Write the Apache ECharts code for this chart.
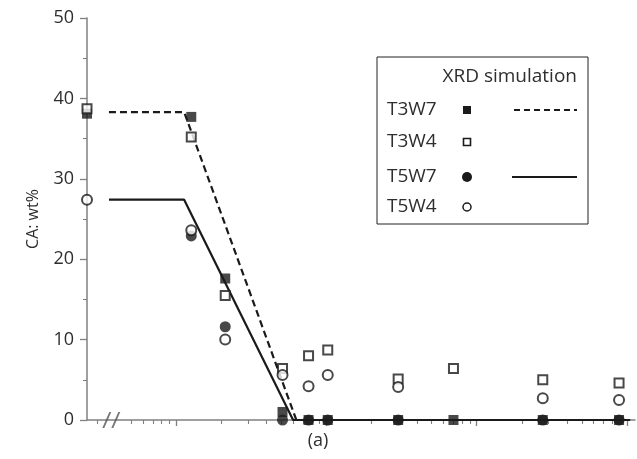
<!DOCTYPE html>
<html>
<head>
<meta charset="utf-8">
<script src="https://cdn.jsdelivr.net/npm/echarts@6/dist/echarts.min.js"></script>
<style>
  html, body { margin: 0; padding: 0; background: #fff; }
  #main { width: 637px; height: 459px; }
</style>
</head>
<body>
<div id="main"></div>
<script>
// x axis is logarithmic; the first column sits on the axis break (no exposure)
var X_MIN = 0.255;
var X_MAX = 1130;
var X_BREAK = 0.37;

var sampleX = [X_MIN, 1.26, 2.12, 5.1, 7.6, 10.2, 30, 70, 275, 885];
var t3w7 = [38.1, 37.7, 17.6, 1.0, 0, 0, 0, 0, 0, 0];
var t3w4 = [38.7, 35.2, 15.5, 6.4, 8.0, 8.7, 5.1, 6.4, 5.0, 4.6];
var t5w7 = [null, 22.9, 11.6, 0, 0, 0, 0, null, 0, 0];
var t5w4 = [27.4, 23.6, 10.0, 5.6, 4.2, 5.6, 4.1, null, 2.7, 2.5];

// XRD simulation curves
var simT3X = [0.357, 1.13, 6.3, 1050];
var simT3Y = [38.3, 38.3, 0, 0];
var simT5X = [0.357, 1.13, 6.0, 1050];
var simT5Y = [27.4, 27.4, 0, 0];

var majorTicks = [1, 10, 100, 1000];
var minorTicks = [0.3, 0.5, 0.6, 0.7, 0.8, 0.9,
                  2, 3, 4, 5, 6, 7, 8, 9,
                  20, 30, 40, 50, 60, 70, 80, 90,
                  200, 300, 400, 500, 600, 700, 800, 900];
var yTicks = [0, 10, 20, 30, 40, 50];

var FONT = 'Open Sans';
var AXIS_GREY = '#808080';
var INK = '#1a1a1a';
var TXT = '#2e2e2e';

function pairs(xs, ys)
{
    var out = [];
    for (var i = 0; i < xs.length; i++)
    {
        if (ys[i] !== null) out.push([xs[i], ys[i]]);
    }
    return out;
}

// legend text helper
function legendText(x, y, txt, align)
{
    return { type : 'text', x : x, y : y, z : 21,
             style : { text : txt, fontFamily : FONT, fontSize : 19, fill : TXT,
                       align : align || 'left', verticalAlign : 'middle' } };
}

var myChart = echarts.init(document.getElementById('main'), null, { renderer : 'canvas' });

var option =
{
    animation : false,
    grid :
    {
        left : 87,
        right : 2,
        top : 18,
        bottom : 39
    },
    xAxis : [
        {
            type : 'log',
            min : X_MIN,
            max : X_MAX,
            position : 'bottom',
            axisLine : { show : true, lineStyle : { color : AXIS_GREY, width : 1.5 } },
            axisTick : { show : true, inside : false, length : 6, customValues : majorTicks,
                         lineStyle : { color : AXIS_GREY, width : 1.3 } },
            axisLabel : { show : false },
            splitLine : { show : false }
        },
        {
            type : 'log',
            min : X_MIN,
            max : X_MAX,
            position : 'bottom',
            gridIndex : 0,
            axisLine : { show : false },
            axisTick : { show : true, inside : false, length : 4, customValues : minorTicks,
                         lineStyle : { color : AXIS_GREY, width : 1.1 } },
            axisLabel : { show : false },
            splitLine : { show : false }
        }
    ],
    yAxis :
    {
        type : 'value',
        min : yTicks[0],
        max : yTicks[yTicks.length - 1],
        interval : 10,
        name : 'CA: wt%',
        nameLocation : 'middle',
        nameGap : 46,
        nameRotate : 90,
        nameTextStyle : { fontFamily : FONT, fontSize : 16, color : TXT },
        axisLine : { show : true, lineStyle : { color : AXIS_GREY, width : 1.5 } },
        axisTick : { show : true, length : 7, lineStyle : { color : AXIS_GREY, width : 1.3 } },
        minorTick : { show : true, splitNumber : 2, length : 4, lineStyle : { color : AXIS_GREY, width : 1.1 } },
        axisLabel : { fontFamily : FONT, fontSize : 18, color : TXT, margin : 13 },
        splitLine : { show : false }
    },
    series : [
        {
            name : 'sim T3',
            type : 'line',
            data : pairs(simT3X, simT3Y),
            showSymbol : false,
            z : 2,
            lineStyle : { color : INK, width : 2.2, type : [7, 4] }
        },
        {
            name : 'sim T5',
            type : 'line',
            data : pairs(simT5X, simT5Y),
            showSymbol : false,
            z : 2,
            lineStyle : { color : INK, width : 2.2 }
        },
        {
            // axis break mark
            name : 'break',
            type : 'scatter',
            data : [[X_BREAK, 0]],
            symbol : 'path://M0,16 L2,16 L9,0 L7,0 Z M9,16 L11,16 L18,0 L16,0 Z',
            symbolSize : [18, 16],
            itemStyle : { color : '#555' },
            z : 3,
            silent : true
        },
        {
            name : 'T3W7',
            type : 'scatter',
            data : pairs(sampleX, t3w7),
            symbol : 'rect',
            symbolSize : 10,
            itemStyle : { color : INK },
            z : 4
        },
        {
            name : 'T3W4',
            type : 'scatter',
            data : pairs(sampleX, t3w4),
            symbol : 'rect',
            symbolSize : 9,
            itemStyle : { color : '#fff', borderColor : INK, borderWidth : 2 },
            z : 5
        },
        {
            name : 'T5W7',
            type : 'scatter',
            data : pairs(sampleX, t5w7),
            symbol : 'circle',
            symbolSize : 11,
            itemStyle : { color : INK },
            z : 6
        },
        {
            name : 'T5W4',
            type : 'scatter',
            data : pairs(sampleX, t5w4),
            symbol : 'circle',
            symbolSize : 10,
            itemStyle : { color : '#fff', borderColor : INK, borderWidth : 2 },
            z : 7
        }
    ],
    graphic : [
        // legend box
        { type : 'rect', shape : { x : 377, y : 57, width : 211, height : 167 },
          style : { fill : '#fff', stroke : '#222', lineWidth : 1 }, z : 20 },
        legendText(577, 77, 'XRD simulation', 'right'),
        legendText(387, 110, 'T3W7'),
        legendText(387, 142, 'T3W4'),
        legendText(387, 177, 'T5W7'),
        legendText(387, 207, 'T5W4'),
        { type : 'rect', shape : { x : 463, y : 106, width : 8, height : 8 }, style : { fill : INK }, z : 21 },
        { type : 'rect', shape : { x : 463.5, y : 138.5, width : 7, height : 7 },
          style : { fill : '#fff', stroke : INK, lineWidth : 1.6 }, z : 21 },
        { type : 'circle', shape : { cx : 467, cy : 177, r : 5 }, style : { fill : INK }, z : 21 },
        { type : 'circle', shape : { cx : 467, cy : 207, r : 4 },
          style : { fill : '#fff', stroke : INK, lineWidth : 1.5 }, z : 21 },
        { type : 'line', shape : { x1 : 514, y1 : 110, x2 : 577, y2 : 110 },
          style : { stroke : INK, lineWidth : 2.2, lineDash : [6, 4] }, z : 21 },
        { type : 'line', shape : { x1 : 512, y1 : 177, x2 : 577, y2 : 177 },
          style : { stroke : INK, lineWidth : 2.2 }, z : 21 },
        // panel caption
        { type : 'text', x : 318, y : 441, z : 21,
          style : { text : '(a)', fontFamily : FONT, fontSize : 18, fill : TXT,
                    align : 'center', verticalAlign : 'middle' } }
    ]
};

myChart.setOption(option);
</script>
</body>
</html>
